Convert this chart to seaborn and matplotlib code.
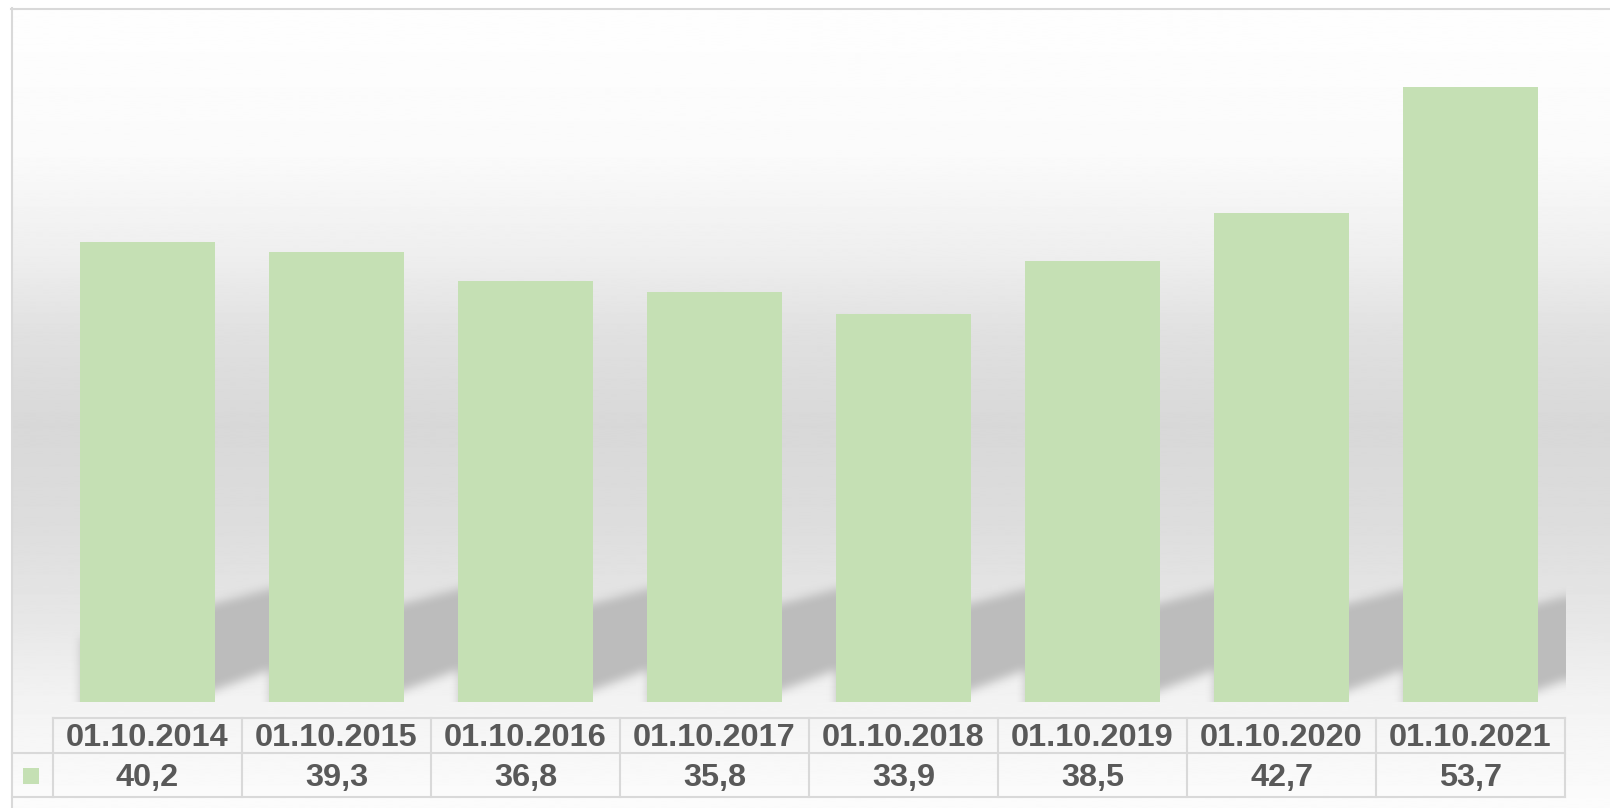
import numpy as np
import matplotlib
matplotlib.use("Agg")
import matplotlib.pyplot as plt
from matplotlib.patches import Rectangle
import seaborn as sns

# ==============================
# Data
# ==============================
dates = ["01.10.2014", "01.10.2015", "01.10.2016", "01.10.2017",
         "01.10.2018", "01.10.2019", "01.10.2020", "01.10.2021"]
values = [40.2, 39.3, 36.8, 35.8, 33.9, 38.5, 42.7, 53.7]

BAR_COLOR = "#c5e0b4"
LINE_COLOR = "#d9d9d9"
TEXT_COLOR = "#595959"

plt.rcParams["font.family"] = ["Liberation Sans", "DejaVu Sans"]

W, H = 1610, 808
fig = plt.figure(figsize=(W / 100, H / 100), dpi=100, facecolor="white")


def fx(px):
    return px / W


def fy(py):
    return 1 - py / H


def box_blur(a, r, axis):
    pad = [(0, 0), (0, 0)]
    pad[axis] = (r + 1, r)
    c = np.cumsum(np.pad(a, pad, mode="edge"), axis=axis)
    n = a.shape[axis]
    hi = np.take(c, np.arange(2 * r + 1, 2 * r + 1 + n), axis=axis)
    lo = np.take(c, np.arange(0, n), axis=axis)
    return (hi - lo) / (2 * r + 1)


# ==============================
# Background (gradient + frame)
# ==============================
bg = fig.add_axes([0, 0, 1, 1])
bg.set_xlim(0, W)
bg.set_ylim(H, 0)
bg.axis("off")

stop_y = [8, 150, 250, 330, 420, 520, 620, 700, 760, 808]
stop_v = [254, 250, 238, 224, 216, 221, 231, 243, 248, 252]
grad = np.interp(np.arange(H), stop_y, stop_v)[:, None] / 255
bg.imshow(grad, cmap="gray", vmin=0, vmax=1, aspect="auto",
          extent=(12, W, H, 9), interpolation="bilinear")
bg.plot([11.5, 11.5], [8, H], color=LINE_COLOR, lw=1.5)
bg.plot([11, W], [8.5, 8.5], color=LINE_COLOR, lw=1.5)
bg.add_patch(Rectangle((23, 768), 16, 16, color=BAR_COLOR, lw=0))

# ==============================
# Bars
# ==============================
px_per_unit = 11.45
ax = fig.add_axes([fx(53), fy(702), fx(1565) - fx(53), (702 - 10) / H])
ax.patch.set_visible(False)
ymax = (702 - 10) / px_per_unit
bar_w = 0.71

# soft floor shadows behind the bars
nx, ny = 1512, 692
xs = np.linspace(-0.5, 7.5, nx)
ys = np.linspace(0, ymax, ny)
X, Y = np.meshgrid(xs, ys)
mask = np.zeros((ny, nx))
for i in range(len(values)):
    L, R = i - bar_w / 2, i + bar_w / 2
    bot = 1.0 + 6.2 * (X - R)
    top = 8.6 + 4.3 * (X - R)
    mask[(X >= L) & (X <= R + 0.45) & (Y >= bot) & (Y <= top)] = 1
for _ in range(2):
    mask = box_blur(mask, 5, 0)
    mask = box_blur(mask, 5, 1)
shadow = np.zeros((ny, nx, 4))
shadow[..., :3] = 0.74
shadow[..., 3] = np.clip(mask, 0, 1)
ax.imshow(shadow, extent=(-0.5, 7.5, 0, ymax), origin="lower",
          aspect="auto", zorder=0, interpolation="bilinear")

sns.barplot(x=dates, y=values, color=BAR_COLOR, saturation=1, width=bar_w,
            linewidth=0, edgecolor="none", ax=ax, zorder=2)
ax.set_xlim(-0.5, 7.5)
ax.set_ylim(0, ymax)
ax.axis("off")

# ==============================
# Data table
# ==============================
x0 = -0.5 - (53 - 12) / 189
tax = fig.add_axes([fx(12), fy(797), fx(1565) - fx(12), (797 - 718) / H])
tax.set_xlim(x0, 7.5)
tax.set_ylim(797, 718)
tax.axis("off")

kw = dict(color=LINE_COLOR, lw=1.5, clip_on=False)
tax.plot([-0.5, 7.5], [718, 718], **kw)
tax.plot([x0, 7.5], [753, 753], **kw)
tax.plot([x0, 7.5], [797, 797], **kw)
for k in range(len(dates) + 1):
    tax.plot([k - 0.5, k - 0.5], [718, 797], **kw)

for i, (d, v) in enumerate(zip(dates, values)):
    tax.text(i, 738, d, ha="center", va="center", fontsize=23.4,
             fontweight="bold", color=TEXT_COLOR)
    tax.text(i, 778, f"{v:.1f}".replace(".", ","), ha="center", va="center",
             fontsize=23.4, fontweight="bold", color=TEXT_COLOR)

fig.savefig("out.png", dpi=100, facecolor="white")
plt.close(fig)
